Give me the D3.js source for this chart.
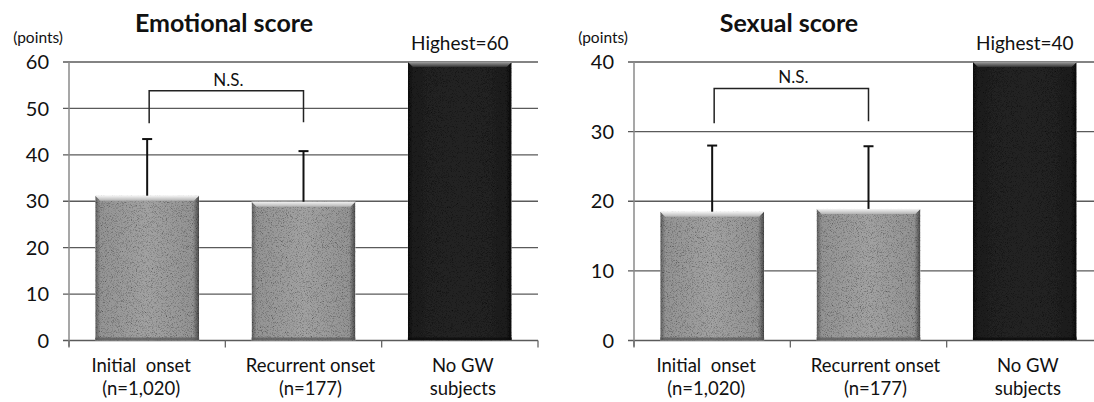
<!DOCTYPE html>
<html>
<head>
<meta charset="utf-8">
<script src="https://cdn.jsdelivr.net/npm/d3@7/dist/d3.min.js"></script>
<style>
  html, body { margin: 0; padding: 0; background: #fff; }
  svg { display: block; }
  text { font-family: Lato, "Open Sans", "Liberation Sans", sans-serif; fill: #111; }
</style>
</head>
<body>
<svg id="chart" width="1094" height="402"></svg>
<script>
// ---------- data ----------
const categories = ["Initial  onset", "Recurrent onset", "No GW"];
const categorySubLabels = ["(n=1,020)", "(n=177)", "subjects"];

const emotionalMeans = [31.2, 29.9, 60];
const emotionalErrors = [12.2, 10.9, null];
const emotionalTicks = [0, 10, 20, 30, 40, 50, 60];
const emotionalBracket = [46.8, 53.8, 47.0]; // left end, top, right end
const emotionalTitle = "Emotional score";
const emotionalHighest = "Highest=60";

const sexualMeans = [18.5, 18.9, 40];
const sexualErrors = [9.5, 9.0, null];
const sexualTicks = [0, 10, 20, 30, 40];
const sexualBracket = [31.2, 36.2, 31.5];
const sexualTitle = "Sexual score";
const sexualHighest = "Highest=40";

const unitLabel = "(points)";
const nsLabel = "N.S.";

// ---------- layout ----------
const svg = d3.select("#chart");
const plotW = 469, plotTop = 62, plotBottom = 340.5;
const labelDx = [-6, 7, 3];

const defs = svg.append("defs");
function grad(id, stops, vertical) {
  const g = defs.append("linearGradient").attr("id", id)
    .attr("x1", 0).attr("y1", 0).attr("x2", vertical ? 0 : 1).attr("y2", vertical ? 1 : 0);
  stops.forEach(s => g.append("stop").attr("offset", s[0]).attr("stop-color", s[1]));
}
grad("greyBody", [["0%", "#5e5e5e"], ["5%", "#949494"], ["50%", "#a2a2a2"], ["94%", "#949494"], ["100%", "#4a4a4a"]]);
grad("darkBody", [["0%", "#0c0c0c"], ["5%", "#1e1e1e"], ["50%", "#242424"], ["94%", "#1e1e1e"], ["100%", "#0a0a0a"]]);
grad("greyTop", [["0%", "#f4f4f4"], ["100%", "#b4b4b4"]], true);
grad("darkTop", [["0%", "#a0a0a0"], ["100%", "#333"]], true);

const f = defs.append("filter").attr("id", "grain")
  .attr("x", 0).attr("y", 0).attr("width", "100%").attr("height", "100%");
f.append("feTurbulence").attr("type", "fractalNoise").attr("baseFrequency", 1.2)
  .attr("numOctaves", 2).attr("seed", 4).attr("result", "noise");
f.append("feColorMatrix").attr("in", "noise").attr("type", "saturate").attr("values", 0).attr("result", "gn");
const ct = f.append("feComponentTransfer").attr("in", "gn").attr("result", "gn2");
["feFuncR", "feFuncG", "feFuncB"].forEach(n => ct.append(n).attr("type", "linear").attr("slope", 2.2).attr("intercept", -0.15));
ct.append("feFuncA").attr("type", "linear").attr("slope", 0).attr("intercept", 1);
f.append("feBlend").attr("in", "SourceGraphic").attr("in2", "gn2").attr("mode", "multiply").attr("result", "bl");
f.append("feComposite").attr("in", "bl").attr("in2", "SourceGraphic").attr("operator", "in");

function drawChart(left, means, errors, ticks, bracket, title, highest) {
  const g = svg.append("g");
  const x = d3.scaleBand().domain(categories).range([left, left + plotW])
    .paddingInner(0.335).paddingOuter(0.1675);
  const y = d3.scaleLinear().domain([0, d3.max(ticks)]).range([plotBottom, plotTop]);

  // gridlines
  g.append("g").selectAll("line").data(ticks).join("line")
    .attr("x1", left - 6).attr("x2", left + plotW)
    .attr("y1", d => y(d)).attr("y2", d => y(d))
    .attr("stroke", "#5a5a5a").attr("stroke-width", 1.3);

  // y axis line
  g.append("line").attr("x1", left).attr("x2", left).attr("y1", plotTop).attr("y2", plotBottom + 6)
    .attr("stroke", "#8a8a8a").attr("stroke-width", 1.5);

  // x ticks at band boundaries
  const step = x.step();
  const bounds = d3.range(categories.length + 1).map(i => left + i * step);
  g.append("g").selectAll("line").data(bounds).join("line")
    .attr("x1", d => d).attr("x2", d => d).attr("y1", plotBottom).attr("y2", plotBottom + 7)
    .attr("stroke", "#666").attr("stroke-width", 1.3);

  // y tick labels
  g.append("g").selectAll("text").data(ticks).join("text")
    .attr("x", left - 20).attr("y", d => y(d)).attr("dy", "0.36em")
    .attr("text-anchor", "end").attr("font-size", 20).text(d => d);

  // bars
  const bars = g.append("g").selectAll("g").data(means).join("g");
  bars.append("rect")
    .attr("x", (d, i) => x(categories[i])).attr("width", x.bandwidth())
    .attr("y", d => y(d)).attr("height", d => y(0) - y(d))
    .attr("fill", (d, i) => i === 2 ? "url(#darkBody)" : "url(#greyBody)")
    .attr("filter", "url(#grain)");
  // top bevel
  bars.append("path")
    .attr("d", (d, i) => {
      const x0 = x(categories[i]), x1 = x0 + x.bandwidth(), t = y(d), b = 5;
      return `M${x0},${t}L${x1},${t}L${x1 - b},${t + b}L${x0 + b},${t + b}Z`;
    })
    .attr("fill", (d, i) => i === 2 ? "url(#darkTop)" : "url(#greyTop)");
  // bottom dark strip
  bars.append("rect")
    .attr("x", (d, i) => x(categories[i])).attr("width", x.bandwidth())
    .attr("y", y(0) - 3).attr("height", 3)
    .attr("fill", (d, i) => i === 2 ? "#0a0a0a" : "#555").attr("opacity", 0.7);

  // error bars (upward only)
  const eb = g.append("g").selectAll("g").data(means.map((m, i) => ({ m, e: errors[i], i })).filter(d => d.e != null)).join("g");
  eb.append("line")
    .attr("x1", d => x(categories[d.i]) + x.bandwidth() / 2).attr("x2", d => x(categories[d.i]) + x.bandwidth() / 2)
    .attr("y1", d => y(d.m)).attr("y2", d => y(d.m + d.e))
    .attr("stroke", "#111").attr("stroke-width", 2);
  eb.append("line")
    .attr("x1", d => x(categories[d.i]) + x.bandwidth() / 2 - 5).attr("x2", d => x(categories[d.i]) + x.bandwidth() / 2 + 5)
    .attr("y1", d => y(d.m + d.e)).attr("y2", d => y(d.m + d.e))
    .attr("stroke", "#111").attr("stroke-width", 2);

  // N.S. bracket
  const bx0 = x(categories[0]) + x.bandwidth() / 2 + 2;
  const bx1 = x(categories[1]) + x.bandwidth() / 2;
  g.append("path")
    .attr("d", `M${bx0},${y(bracket[0])}L${bx0},${y(bracket[1])}L${bx1},${y(bracket[1])}L${bx1},${y(bracket[2])}`)
    .attr("fill", "none").attr("stroke", "#222").attr("stroke-width", 1.5);
  g.append("text").attr("x", (bx0 + bx1) / 2 + 2).attr("y", y(bracket[1]) - 5)
    .attr("text-anchor", "middle").attr("font-size", 17).text(nsLabel);

  // title & labels
  g.append("text").attr("x", left + 155).attr("y", 32).attr("text-anchor", "middle")
    .attr("font-size", 25).attr("font-weight", "bold").text(title);
  g.append("text").attr("x", left - 6).attr("y", 43).attr("text-anchor", "end")
    .attr("font-size", 15.5).text(unitLabel);
  g.append("text").attr("x", x(categories[2]) + x.bandwidth() / 2).attr("y", 50)
    .attr("text-anchor", "middle").attr("font-size", 19).text(highest);

  // category labels
  const cl = g.append("g").selectAll("text").data(categories).join("text")
    .attr("x", (d, i) => x(d) + x.bandwidth() / 2 + labelDx[i])
    .attr("text-anchor", "middle").attr("font-size", 18.5);
  cl.append("tspan").attr("x", (d, i) => x(d) + x.bandwidth() / 2 + labelDx[i]).attr("y", 372)
    .style("white-space", "pre").text(d => d);
  cl.append("tspan").attr("x", (d, i) => x(d) + x.bandwidth() / 2 + labelDx[i]).attr("y", 395)
    .text((d, i) => categorySubLabels[i]);
}

drawChart(69, emotionalMeans, emotionalErrors, emotionalTicks, emotionalBracket, emotionalTitle, emotionalHighest);
drawChart(634, sexualMeans, sexualErrors, sexualTicks, sexualBracket, sexualTitle, sexualHighest);
</script>
</body>
</html>
